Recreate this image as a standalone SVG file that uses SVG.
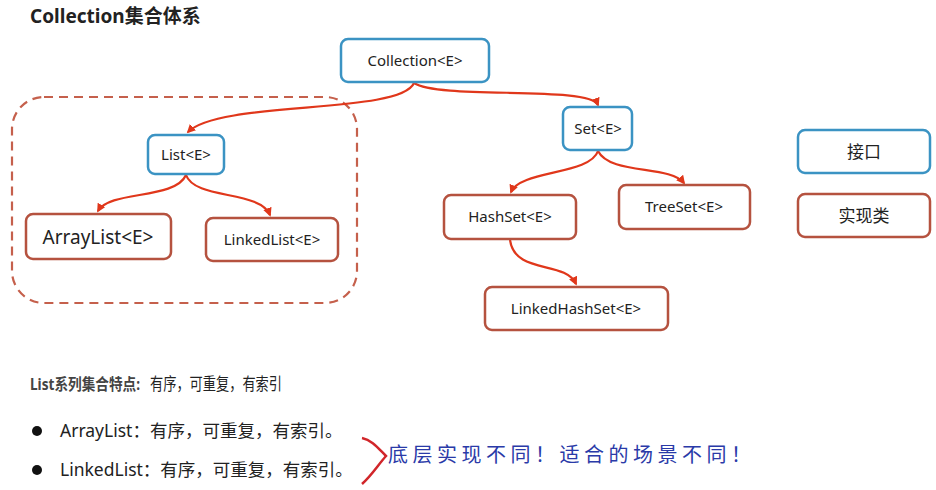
<svg xmlns="http://www.w3.org/2000/svg" width="936" height="490" viewBox="0 0 936 490">
<style>
text{font-family:"Noto Sans","Noto Sans CJK SC",sans-serif;fill:#222}
.i{fill:#fff;stroke:#3b93c3;stroke-width:2.5}
.c{fill:#fff;stroke:#b5523f;stroke-width:2.5}
.l{font-size:15px;text-anchor:middle}
.e{fill:none;stroke:#e0371b;stroke-width:2.2;marker-end:url(#a)}
</style>
<defs><marker id="a" viewBox="0 0 10 10" refX="8" refY="5" markerWidth="4" markerHeight="4" orient="auto"><path d="M0,0L10,5L0,10z" fill="#e0371b"/></marker></defs>
<rect width="936" height="490" fill="#fff"/>
<text x="30" y="23" font-size="19" font-weight="bold" fill="#333">Collection集合体系</text>
<rect x="12" y="97" width="345" height="206" rx="32" fill="none" stroke="#c5604c" stroke-width="2.2" stroke-dasharray="9,6"/>
<g id="connectors">
<path class="e" d="M414,83C400,115 220,100 188,132"/>
<path class="e" d="M414,83C440,100 590,85 598,105"/>
<path class="e" d="M186,175C175,200 110,190 98,211"/>
<path class="e" d="M186,175C195,200 260,190 270,215"/>
<path class="e" d="M598,151C590,175 520,170 511,192"/>
<path class="e" d="M598,151C610,175 670,165 684,183"/>
<path class="e" d="M510,240C515,275 565,260 576,284"/>
</g>
<g id="collection"><rect class="i" x="341" y="39" width="148" height="43" rx="7"/><text class="l" x="415" y="66">Collection&lt;E&gt;</text></g>
<g id="list"><rect class="i" x="148" y="135" width="76" height="39" rx="7"/><text class="l" x="186" y="160">List&lt;E&gt;</text></g>
<g id="arraylist"><rect class="c" x="26" y="214" width="145" height="45" rx="7"/><text class="l" x="98" y="244" style="font-size:19px">ArrayList&lt;E&gt;</text></g>
<g id="linkedlist"><rect class="c" x="206" y="218" width="132" height="43" rx="7"/><text class="l" x="272" y="245">LinkedList&lt;E&gt;</text></g>
<g id="set"><rect class="i" x="563" y="107" width="69" height="43" rx="7"/><text class="l" x="598" y="134">Set&lt;E&gt;</text></g>
<g id="hashset"><rect class="c" x="444" y="195" width="132" height="44" rx="7"/><text class="l" x="510" y="222">HashSet&lt;E&gt;</text></g>
<g id="treeset"><rect class="c" x="619" y="185" width="131" height="44" rx="7"/><text class="l" x="684" y="212">TreeSet&lt;E&gt;</text></g>
<g id="linkedhashset"><rect class="c" x="485" y="287" width="183" height="43" rx="7"/><text class="l" x="576" y="314">LinkedHashSet&lt;E&gt;</text></g>
<g id="legend-interface"><rect class="i" x="798" y="130" width="132" height="43" rx="7"/><text class="l" x="864" y="158" style="font-size:17px">接口</text></g>
<g id="legend-class"><rect class="c" x="798" y="194" width="132" height="43" rx="7"/><text class="l" x="864" y="222" style="font-size:17px">实现类</text></g>
<text x="30" y="390" font-size="16" font-weight="bold" style="fill:#444" textLength="110" lengthAdjust="spacingAndGlyphs">List系列集合特点:</text>
<text x="150" y="390" font-size="17" textLength="132" lengthAdjust="spacingAndGlyphs">有序，可重复，有索引</text>
<circle cx="37" cy="431" r="5" fill="#111"/>
<circle cx="37" cy="470" r="5" fill="#111"/>
<text x="60" y="437" font-size="17.5">ArrayList：有序，可重复，有索引。</text>
<text x="60" y="476" font-size="17.5">LinkedList：有序，可重复，有索引。</text>
<path d="M362,438C372,440 378,448 386,456C378,465 372,475 362,484" fill="none" stroke="#d1262a" stroke-width="2.5"/>
<text x="388" y="462" font-size="20" style="fill:#2a3aa8" letter-spacing="4.5">底层实现不同！适合的场景不同！</text>
</svg>
